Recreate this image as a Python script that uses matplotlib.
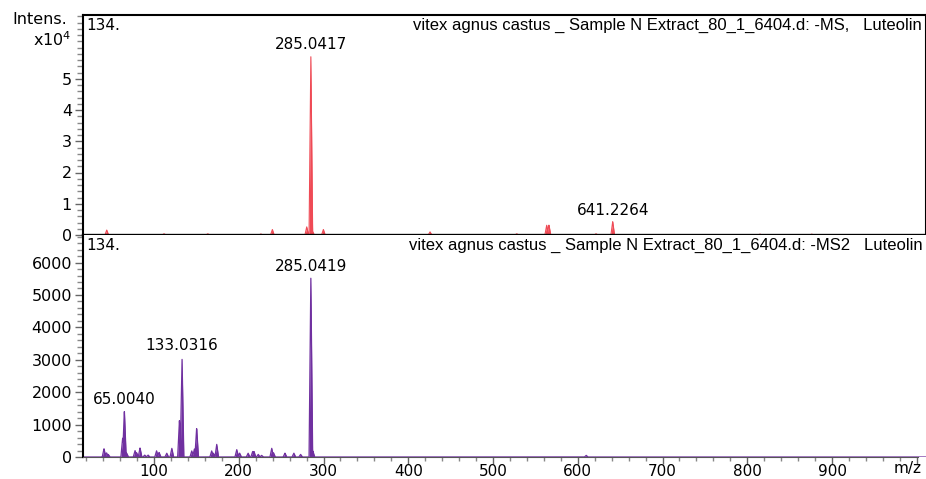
import numpy as np
import matplotlib
matplotlib.use("Agg")
import matplotlib.pyplot as plt
from matplotlib.ticker import MultipleLocator

# ---------------- data ----------------
ms1_mz = [44.2, 111.8, 163.4, 226.0, 239.6, 280.2, 285.0417, 287.0, 299.8,
          425.7, 528.0, 563.3, 566.0, 621.5, 641.2264, 815.0, 876.0]
ms1_int = [1600, 400, 400, 350, 1800, 2600, 57300, 1300, 1800,
           1000, 400, 3200, 3200, 400, 4300, 300, 300]

ms2_mz = [41.0, 44.0, 46.0, 63.0, 65.0040, 67.7, 77.6, 79.5, 83.5, 89.0, 93.0,
          103.0, 106.0, 115.0, 121.0, 130.0, 133.0316, 144.5, 147.6, 150.3,
          168.0, 170.0, 174.0, 197.6, 201.0, 211.0, 216.4, 218.0, 223.0, 227.0,
          238.9, 241.0, 254.5, 265.0, 273.0, 285.0419, 287.5, 610.0]
ms2_int = [260, 130, 80, 590, 1440, 120, 200, 130, 280, 60, 60,
           190, 140, 120, 270, 1130, 3100, 190, 250, 895,
           190, 120, 390, 230, 120, 120, 170, 170, 80, 50,
           270, 130, 120, 120, 80, 5540, 180, 50]

ms1_labels = ["285.0417", "641.2264"]
ms2_labels = ["285.0419", "133.0316", "65.0040"]

title_ms1 = "vitex agnus castus _ Sample N Extract_80_1_6404.d: -MS,   Luteolin"
title_ms2 = "vitex agnus castus _ Sample N Extract_80_1_6404.d: -MS2   Luteolin"
x_ticks = [100, 200, 300, 400, 500, 600, 700, 800, 900]
ms1_yticks = [0, 1, 2, 3, 4, 5]
ms2_yticks = [0, 1000, 2000, 3000, 4000, 5000, 6000]

# ---------------- helpers ----------------
XMIN, XMAX = 16.2, 1010.9
grid = np.linspace(XMIN, XMAX, 8000)


def profile(mz, inten, w=2.1):
    y = np.zeros_like(grid)
    for m, h in zip(mz, inten):
        tri = h * np.clip(1 - np.abs(grid - m) / w, 0, None)
        y = np.maximum(y, tri)
    return y


RED = "#ef4a55"
PURPLE = "#7030a0"
W, H = 926, 479
fig = plt.figure(figsize=(W / 100, H / 100), dpi=100)


def px_axes(x0, y0, x1, y1):
    return fig.add_axes([x0 / W, 1 - y1 / H, (x1 - x0) / W, (y1 - y0) / H])


ax1 = px_axes(83, 15, 926, 235)
ax2 = px_axes(83, 235, 926, 457)

# ---- top panel (MS) ----
y1 = profile(ms1_mz, ms1_int)
ax1.fill_between(grid, 0, y1 / 1e4, color=RED, lw=0)
ax1.plot(grid, y1 / 1e4, color=RED, lw=0.8)
ax1.set_xlim(XMIN, XMAX)
ax1.set_ylim(0, 7.04)
ax1.set_xticks([])
ax1.set_yticks(ms1_yticks)
ax1.yaxis.set_minor_locator(MultipleLocator(0.2))
for s in ["top", "left", "right"]:
    ax1.spines[s].set_linewidth(1.5)
ax1.spines["bottom"].set_linewidth(2.4)

# ---- bottom panel (MS2) ----
y2 = profile(ms2_mz, ms2_int)
ax2.fill_between(grid, 0, y2, color=PURPLE, lw=0)
ax2.plot(grid, y2, color=PURPLE, lw=0.9)
ax2.set_xlim(XMIN, XMAX)
ax2.set_ylim(0, 6850)
ax2.set_yticks(ms2_yticks)
ax2.yaxis.set_minor_locator(MultipleLocator(200))
ax2.set_xticks(x_ticks + [1000])
ax2.set_xticklabels([str(t) for t in x_ticks] + [""])
ax2.xaxis.set_minor_locator(MultipleLocator(20))
ax2.spines["top"].set_visible(False)
ax2.spines["right"].set_visible(False)
ax2.spines["left"].set_linewidth(1.5)
ax2.spines["bottom"].set_linewidth(0.8)
ax2.spines["bottom"].set_color("#555555")
ax2.spines["bottom"].set_bounds(XMIN, 1002)

for ax in (ax1, ax2):
    ax.set_facecolor("white")
    ax.tick_params(axis="y", which="major", length=6, width=1, color="#666666",
                   pad=2, labelsize=11.5)
    ax.tick_params(axis="y", which="minor", length=4, width=1, color="#888888")
    ax.tick_params(axis="x", which="major", length=5, width=1, color="#666666",
                   pad=0, labelsize=11)
    ax.tick_params(axis="x", which="minor", length=3, width=1, color="#888888")
    for lab in ax.get_yticklabels() + ax.get_xticklabels():
        lab.set_fontfamily("DejaVu Sans")

# ---- texts ----
def figtext(x, y, s, **kw):
    fig.text(x / W, 1 - y / H, s, **kw)

figtext(67, 19, "Intens.", ha="right", va="center", fontsize=11.5,
        family="DejaVu Sans")
figtext(71, 40, r"x10$^4$", ha="right", va="center", fontsize=11.5,
        family="DejaVu Sans")

for ax, title in ((ax1, title_ms1), (ax2, title_ms2)):
    ax.text(0.004, 0.985, "134.", transform=ax.transAxes, ha="left", va="top",
            fontsize=11, family="DejaVu Sans")
    ax.text(0.9955, 0.985, title, transform=ax.transAxes, ha="right", va="top",
            fontsize=12, family="Liberation Sans")

label_kw = dict(ha="center", va="bottom", fontsize=11, family="DejaVu Sans")
for lab in ms1_labels:
    m = float(lab)
    h = ms1_int[ms1_mz.index(m)] / 1e4
    ax1.text(m, h + 0.12, lab, **label_kw)
for lab in ms2_labels:
    m = float(lab)
    h = ms2_int[ms2_mz.index(m)]
    ax2.text(m, h + 110, lab, **label_kw)

figtext(908, 469, "m/z", ha="center", va="center", fontsize=11,
        family="DejaVu Sans")

fig.savefig("out.png", dpi=100)
